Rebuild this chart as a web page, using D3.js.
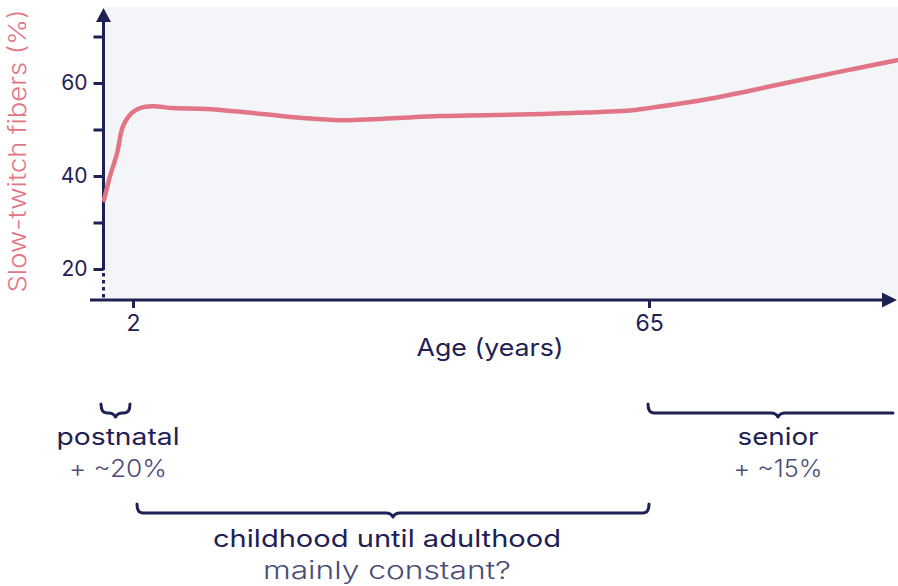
<!DOCTYPE html>
<html><head><meta charset="utf-8">
<script src="https://cdn.jsdelivr.net/npm/d3@7"></script>
<style>
html,body{margin:0;padding:0;background:#fff;}
svg{display:block;font-family:Inter,"DejaVu Sans",sans-serif;}
</style></head><body>
<svg id="chart" width="898" height="586"></svg>
<script>
// ---- data ----
const ages      = [0, 0.4, 0.9, 1.3, 1.9, 2.85, 4.4, 6.9, 11, 15.1, 19.1, 23.2, 27.3, 31.3, 35.5, 39.5, 46.4, 54.5, 62.7, 65, 72, 80, 88, 95];
const fiberPct  = [34.8, 39.8, 44.9, 50.6, 53.5, 54.6, 55.0, 54.6, 54.4, 53.8, 53.1, 52.4, 52.0, 52.2, 52.6, 52.9, 53.1, 53.5, 54.1, 54.6, 56.5, 59.4, 62.4, 64.9];
const yTicks    = [20, 30, 40, 50, 60, 70];
const yLabelled = [20, 40, 60];
const xTicks    = [2, 65];
const phases = [
  {name: "postnatal", note: "+ ~20%", from: 0, to: 2, row: 0},
  {name: "childhood until adulthood", note: "mainly constant?", from: 2, to: 65, row: 1},
  {name: "senior", note: "+ ~15%", from: 65, to: 95, row: 0}
];

const NAVY = "#1f2154", PINK = "#e27585", NOTE = "#4b4d78";
const svg = d3.select("#chart");
const W = 898;

const x = d3.scaleLinear().domain([0, 2, 65, 95]).range([104, 133, 649, 897]);
const y = d3.scaleLinear().domain([20, 60]).range([269, 83]);

// plot background
svg.append("rect").attr("x", 105).attr("y", 7).attr("width", W - 105).attr("height", 291).attr("fill", "#f4f5f8");

// y axis ticks
const yAxis = d3.axisLeft(y).tickValues(yTicks).tickSize(10).tickPadding(6)
  .tickFormat(d => yLabelled.includes(d) ? d : "");
const gy = svg.append("g").attr("transform", "translate(103.5,0)").call(yAxis);
gy.select(".domain").remove();
gy.selectAll(".tick line").attr("stroke", NAVY).attr("stroke-width", 3);
gy.selectAll(".tick text").attr("fill", NAVY).style("font-size", "21px").style("font-family", "Inter, 'DejaVu Sans', sans-serif");

// y axis line + arrow + broken part
svg.append("line").attr("x1", 103.5).attr("x2", 103.5).attr("y1", y(20) + 1).attr("y2", 20)
  .attr("stroke", NAVY).attr("stroke-width", 3);
svg.append("path").attr("d", "M103.5,8 L111,22 L96,22 Z").attr("fill", NAVY);
svg.append("line").attr("x1", 103.5).attr("x2", 103.5).attr("y1", y(20) + 4).attr("y2", 298)
  .attr("stroke", NAVY).attr("stroke-width", 3).attr("stroke-dasharray", "3.5,3.5");

// x axis
const xAxis = d3.axisBottom(x).tickValues(xTicks).tickSize(8).tickPadding(7);
const gx = svg.append("g").attr("transform", "translate(0,300)").call(xAxis);
gx.select(".domain").remove();
gx.selectAll(".tick line").attr("stroke", NAVY).attr("stroke-width", 3);
gx.selectAll(".tick text").attr("fill", NAVY).style("font-size", "23px").style("font-family", "Inter, 'DejaVu Sans', sans-serif");
svg.append("line").attr("x1", 90).attr("x2", 884).attr("y1", 300).attr("y2", 300)
  .attr("stroke", NAVY).attr("stroke-width", 3);
svg.append("path").attr("d", "M897,300 L882,292.5 L882,307.5 Z").attr("fill", NAVY);

// axis titles
svg.append("text").attr("x", 490).attr("y", 356).attr("text-anchor", "middle")
  .attr("fill", NAVY).style("font-size", "24px").attr("textLength", 147).attr("lengthAdjust", "spacingAndGlyphs")
  .text("Age (years)");
svg.append("text").attr("transform", "translate(26,151) rotate(-90)").attr("text-anchor", "middle")
  .attr("fill", PINK).style("font-size", "24px").style("font-weight", 300)
  .attr("textLength", 283).attr("lengthAdjust", "spacingAndGlyphs")
  .text("Slow-twitch fibers (%)");

// curve
const line = d3.line().x(d => x(d[0])).y(d => y(d[1])).curve(d3.curveCatmullRom.alpha(0.5));
svg.append("path").datum(ages.map((a, i) => [a, fiberPct[i]]))
  .attr("d", line).attr("fill", "none").attr("stroke", PINK).attr("stroke-width", 4.5)
  .attr("stroke-linecap", "round");

// braces
function brace(x0, x1, xm, y0, curlRight) {
  const y1 = y0 + 9, y2 = y0 + 13, r = 6;
  let p = `M${x0},${y0} Q${x0},${y1} ${x0 + r},${y1} L${xm - 7},${y1} Q${xm - 2},${y1} ${xm},${y2} Q${xm + 2},${y1} ${xm + 7},${y1}`;
  p += curlRight ? ` L${x1 - r},${y1} Q${x1},${y1} ${x1},${y0}` : ` L${x1},${y1}`;
  return p;
}
const rowY = [404, 504];
const gb = svg.append("g");
phases.forEach(ph => {
  let x0, x1, xm, curl = true;
  if (ph.name === "postnatal") { x0 = x(ph.from) - 3; x1 = x(ph.to) - 3; }
  else if (ph.name === "senior") { x0 = x(ph.from) - 1; x1 = 893; curl = false; }
  else { x0 = x(ph.from) + 4; x1 = x(ph.to); }
  xm = ph.name === "senior" ? 778 : (x0 + x1) / 2;
  gb.append("path").attr("d", brace(x0, x1, xm, rowY[ph.row], curl))
    .attr("fill", "none").attr("stroke", NAVY).attr("stroke-width", 3)
    .attr("stroke-linejoin", "round").attr("stroke-linecap", "round");
  ph.cx = ph.name === "postnatal" ? 118 : ph.name === "senior" ? 778 : 387;
});
const labelW = {"postnatal": 123, "childhood until adulthood": 348, "senior": 81};
const noteW  = {"+ ~20%": 98, "mainly constant?": 248, "+ ~15%": 89};
phases.forEach(ph => {
  const base = ph.row === 0 ? 445 : 547;
  svg.append("text").attr("x", ph.cx).attr("y", base).attr("text-anchor", "middle")
    .attr("fill", NAVY).style("font-size", "24px")
    .attr("textLength", labelW[ph.name]).attr("lengthAdjust", "spacingAndGlyphs").text(ph.name);
  svg.append("text").attr("x", ph.cx).attr("y", base + 32).attr("text-anchor", "middle")
    .attr("fill", NOTE).style("font-size", "24px").style("font-weight", 300)
    .attr("textLength", noteW[ph.note]).attr("lengthAdjust", "spacingAndGlyphs").text(ph.note);
});
</script>
</body></html>
